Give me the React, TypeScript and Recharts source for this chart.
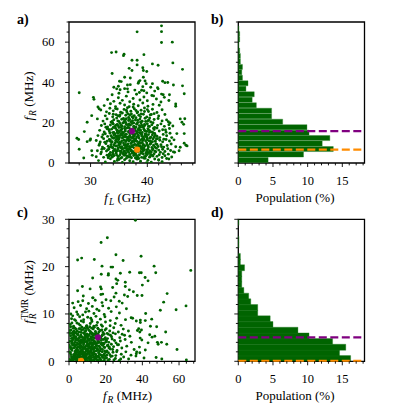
import React from "react";
import {
  ScatterChart,
  Scatter,
  BarChart,
  Bar,
  XAxis,
  YAxis,
  ReferenceArea,
  ReferenceLine,
} from "recharts";

const FONT = "'Liberation Serif', 'DejaVu Serif', serif";
const GREEN = "#006400";
const PURPLE = "#800080";
const ORANGE = "#ff8c00";

// a) f_L (GHz) vs f_R (MHz)
const fLvsFR: number[][] = [
  // dense cloud
  [31.4, 1.2], [32.6, 0.5], [33.5, 2.1], [34.2, 0.8], [35.0, 1.7], [35.6, 0.3], [36.3, 2.3], [36.9, 1.1], [37.5, 0.6], [38.2, 1.9],
  [38.8, 0.9], [39.4, 2.4], [40.1, 1.4], [40.7, 0.4], [41.3, 2.0], [42.0, 1.5], [42.6, 0.7], [43.4, 2.2], [34.7, 1.3], [37.9, 2.5],
  [39.9, 0.2], [36.0, 1.6],
  [31.0, 3.1], [31.8, 4.6], [32.3, 2.8], [32.9, 3.9], [33.3, 4.4], [33.8, 2.9], [34.1, 3.6], [34.5, 4.8], [34.9, 3.3], [35.2, 4.1],
  [35.5, 2.7], [35.9, 3.8], [36.2, 4.9], [36.6, 3.2], [36.9, 4.3], [37.2, 2.6], [37.6, 3.7], [37.9, 4.7], [38.3, 3.0], [38.6, 4.0],
  [39.0, 2.8], [39.3, 4.5], [39.7, 3.4], [40.0, 4.2], [40.4, 2.9], [40.8, 3.9], [41.2, 4.6], [41.7, 3.3], [42.1, 4.1], [42.6, 2.7],
  [43.1, 3.6], [43.7, 4.4], [44.3, 3.0], [36.4, 3.5], [38.0, 2.6], [35.7, 4.7], [39.5, 3.1], [37.3, 4.9], [33.6, 3.8], [40.6, 4.3],
  [31.2, 6.1], [31.9, 5.4], [32.4, 7.2], [32.8, 5.9], [33.2, 6.8], [33.5, 5.2], [33.9, 7.4], [34.2, 6.3], [34.5, 5.5], [34.8, 7.0],
  [35.1, 6.0], [35.3, 5.1], [35.6, 6.9], [35.9, 5.7], [36.1, 7.3], [36.4, 6.4], [36.7, 5.3], [36.9, 7.1], [37.2, 6.2], [37.5, 5.6],
  [37.7, 7.4], [38.0, 6.7], [38.4, 5.4], [38.7, 6.0], [38.9, 7.2], [39.2, 5.8], [39.5, 6.6], [39.8, 5.2], [40.1, 7.0], [40.4, 6.1],
  [40.7, 5.5], [41.0, 6.9], [41.3, 5.9], [41.6, 7.3], [42.0, 6.4], [42.3, 5.3], [42.7, 6.8], [43.1, 5.7], [43.6, 7.1], [44.1, 6.2],
  [44.6, 5.5], [34.0, 5.9], [35.4, 7.4], [36.6, 6.6], [37.9, 5.1], [38.2, 7.5], [39.1, 6.9], [40.0, 5.6], [37.0, 6.7], [36.0, 5.9],
  [38.6, 6.4], [33.0, 6.5],
  [31.5, 8.8], [32.1, 7.9], [32.7, 9.6], [33.1, 8.3], [33.6, 9.1], [33.9, 7.7], [34.3, 9.8], [34.6, 8.5], [34.9, 7.6], [35.2, 9.3],
  [35.5, 8.1], [35.8, 9.9], [36.0, 8.7], [36.3, 7.8], [36.6, 9.4], [36.8, 8.2], [37.1, 9.7], [37.4, 8.0], [37.6, 9.0], [37.9, 7.6],
  [38.1, 8.9], [38.4, 9.5], [38.7, 8.3], [39.0, 7.8], [39.3, 9.2], [39.6, 8.6], [39.9, 9.9], [40.2, 8.0], [40.5, 9.3], [40.8, 7.7],
  [41.1, 8.8], [41.5, 9.6], [41.9, 8.2], [42.4, 9.1], [42.9, 7.9], [43.5, 8.7], [44.2, 9.4], [45.0, 8.1], [34.4, 8.4], [36.2, 9.2],
  [38.3, 8.1], [40.0, 9.0], [35.0, 8.9], [37.3, 8.6], [39.4, 7.6], [36.9, 7.5], [38.8, 9.8],
  [31.0, 11.2], [31.7, 10.4], [32.3, 12.1], [32.9, 10.8], [33.3, 11.7], [33.7, 10.2], [34.0, 12.3], [34.4, 11.0], [34.7, 10.5], [35.0, 11.9],
  [35.3, 10.1], [35.6, 12.4], [35.9, 11.3], [36.2, 10.6], [36.5, 12.0], [36.8, 10.9], [37.0, 11.6], [37.3, 10.3], [37.6, 12.2], [37.9, 11.1],
  [38.2, 10.7], [38.5, 12.4], [38.8, 11.4], [39.1, 10.2], [39.4, 11.8], [39.7, 10.9], [40.0, 12.3], [40.3, 11.0], [40.7, 10.4], [41.0, 11.9],
  [41.4, 10.8], [41.8, 12.1], [42.2, 11.3], [42.7, 10.5], [43.3, 11.7], [43.9, 10.9], [44.7, 11.5], [33.5, 11.4], [35.5, 11.0], [36.7, 11.8],
  [38.0, 12.0], [39.2, 11.2], [40.5, 12.4], [37.4, 11.0], [34.8, 12.2],
  [31.3, 13.6], [32.0, 12.9], [32.6, 14.5], [33.0, 13.2], [33.4, 14.9], [33.8, 12.7], [34.1, 14.0], [34.5, 13.3], [34.8, 14.7], [35.1, 12.6],
  [35.4, 13.9], [35.7, 14.6], [36.0, 13.1], [36.3, 14.3], [36.6, 12.8], [36.9, 13.7], [37.2, 14.8], [37.5, 13.0], [37.8, 14.2], [38.1, 12.9],
  [38.4, 13.8], [38.7, 14.9], [39.0, 13.4], [39.3, 12.7], [39.6, 14.4], [39.9, 13.2], [40.2, 14.1], [40.6, 12.8], [40.9, 13.9], [41.3, 14.7],
  [41.7, 13.3], [42.2, 12.6], [42.8, 14.2], [43.4, 13.5], [44.0, 14.8], [34.6, 13.0], [36.1, 14.0], [37.7, 13.5], [38.9, 14.6], [35.2, 13.6],
  [39.8, 13.0],
  [31.6, 16.2], [32.4, 15.4], [32.9, 17.0], [33.3, 15.9], [33.7, 16.8], [34.1, 15.2], [34.4, 17.3], [34.8, 16.0], [35.1, 15.5], [35.5, 16.9],
  [35.8, 15.1], [36.1, 16.4], [36.4, 17.4], [36.7, 15.7], [37.0, 16.7], [37.3, 15.3], [37.6, 17.1], [37.9, 16.1], [38.2, 15.6], [38.5, 17.2],
  [38.8, 16.3], [39.1, 15.2], [39.4, 16.8], [39.7, 15.8], [40.1, 17.0], [40.4, 16.0], [40.8, 15.4], [41.2, 16.6], [41.7, 17.4], [42.1, 15.9],
  [42.7, 16.5], [43.3, 15.3], [43.9, 17.1], [35.3, 16.3], [36.9, 15.9], [38.4, 16.5], [39.9, 15.6],
  [31.9, 18.6], [32.5, 19.4], [33.0, 17.9], [33.5, 18.9], [33.9, 19.7], [34.3, 18.2], [34.7, 19.2], [35.0, 17.6], [35.4, 18.7], [35.7, 19.9],
  [36.0, 18.0], [36.3, 19.1], [36.6, 17.7], [37.0, 18.8], [37.3, 19.6], [37.6, 18.3], [37.9, 17.5], [38.2, 19.3], [38.6, 18.5], [38.9, 19.8],
  [39.2, 17.8], [39.6, 18.9], [40.0, 19.5], [40.4, 18.1], [40.8, 19.0], [41.3, 17.6], [41.8, 18.7], [42.4, 19.4], [43.0, 18.2], [43.8, 19.0],
  [36.8, 19.4], [34.9, 18.4],
  [32.2, 20.8], [32.9, 21.9], [33.6, 20.3], [34.1, 21.5], [34.6, 22.3], [35.0, 20.6], [35.5, 21.7], [35.9, 20.2], [36.3, 22.0], [36.7, 21.1],
  [37.1, 20.5], [37.5, 22.4], [37.9, 21.3], [38.3, 20.1], [38.7, 21.8], [39.1, 20.7], [39.6, 22.2], [40.1, 21.0], [40.6, 20.4], [41.2, 21.6],
  [41.9, 22.1], [42.6, 20.9], [43.4, 21.4], [36.1, 21.3], [38.0, 22.5],
  [32.6, 23.4], [33.3, 24.6], [33.9, 22.9], [34.5, 24.0], [35.1, 23.2], [35.6, 24.8], [36.2, 23.7], [36.7, 22.6], [37.2, 24.3], [37.7, 23.5],
  [38.2, 24.9], [38.8, 23.0], [39.3, 24.2], [39.9, 22.8], [40.5, 23.9], [41.2, 24.5], [42.0, 23.3], [43.1, 24.1], [36.9, 23.8],
  [31.8, 26.3], [32.8, 25.4], [33.4, 27.2], [34.0, 25.9], [34.7, 26.8], [35.3, 25.2], [35.9, 26.6], [36.5, 27.4], [37.1, 25.7], [37.7, 26.9],
  [38.3, 25.3], [38.9, 26.2], [39.5, 27.3], [40.2, 25.6], [40.9, 26.7], [41.7, 25.1], [42.6, 26.4],
  [32.4, 28.5], [33.5, 29.4], [34.4, 28.0], [35.2, 29.7], [36.0, 28.8], [36.8, 27.9], [37.6, 29.2], [38.4, 28.4], [39.2, 29.8], [40.1, 28.2],
  [41.0, 29.1], [42.1, 28.7],
  [33.0, 31.5], [34.1, 30.6], [34.9, 32.4], [35.6, 31.1], [36.3, 33.2], [36.9, 30.4], [37.5, 32.0], [38.1, 34.1], [38.7, 31.3], [39.4, 32.8],
  [40.0, 30.9], [40.8, 33.5], [41.6, 31.8], [42.4, 30.3], [43.0, 32.6], [35.0, 34.6], [36.6, 35.3], [37.8, 36.2], [38.6, 35.0], [39.9, 34.8],
  [41.3, 35.7], [42.5, 34.2], [33.8, 33.9], [34.6, 36.8], [43.8, 31.0],
  [33.2, 3.4], [34.0, 4.2], [34.8, 2.2], [35.4, 5.8], [36.1, 4.0], [36.8, 2.9], [37.4, 5.3], [38.1, 3.8], [38.9, 4.8], [39.6, 2.3],
  [40.3, 5.1], [41.0, 3.5], [33.6, 8.1], [34.3, 6.7], [35.0, 9.5], [35.7, 7.2], [36.4, 8.4], [37.1, 6.1], [37.8, 9.2], [38.5, 7.0],
  [39.2, 8.7], [39.9, 6.4], [40.6, 9.8], [41.3, 8.0], [33.4, 10.9], [34.2, 12.6], [34.9, 11.5], [35.6, 13.8], [36.3, 11.2], [37.0, 12.9],
  [37.7, 10.6], [38.4, 13.3], [39.1, 11.9], [39.8, 14.2], [40.5, 10.9], [41.2, 12.8], [33.9, 15.1], [34.6, 16.4], [35.3, 14.5], [36.0, 17.2],
  [36.7, 15.4], [37.4, 16.9], [38.1, 14.8], [38.8, 17.8], [39.5, 16.1], [40.2, 18.3], [41.0, 15.0], [34.0, 19.3], [34.8, 20.9], [35.5, 18.4],
  [36.2, 20.1], [36.9, 21.6], [37.6, 19.9], [38.3, 21.2], [39.0, 18.8], [39.7, 20.6], [40.4, 22.4], [35.2, 23.9], [36.4, 25.3], [37.3, 22.9],
  [38.0, 26.1], [38.9, 24.4], [40.0, 26.5], [34.4, 27.0], [37.5, 27.8], [32.0, 6.8], [32.5, 10.3], [32.2, 14.1], [42.5, 8.1], [42.9, 11.8],
  [43.2, 16.4], [42.8, 4.6], [31.6, 9.5], [44.3, 12.6], [43.7, 20.5], [32.7, 17.8], [31.2, 21.9],
  [33.1, 2.6], [33.9, 5.0], [34.6, 3.9], [35.3, 2.4], [35.8, 4.6], [36.5, 5.9], [37.0, 3.3], [37.7, 4.4], [38.5, 2.2], [39.0, 5.5],
  [39.8, 4.6], [40.5, 3.3], [41.5, 5.6], [33.3, 7.7], [34.1, 8.9], [34.7, 6.1], [35.2, 7.9], [35.9, 9.1], [36.5, 7.0], [37.2, 8.2],
  [37.9, 6.3], [38.6, 8.6], [39.3, 6.2], [40.1, 8.4], [40.9, 6.6], [41.7, 9.2], [33.8, 10.6], [34.5, 11.7], [35.1, 10.3], [35.8, 12.8],
  [36.6, 11.4], [37.3, 12.5], [37.8, 11.6], [38.6, 10.3], [39.3, 12.9], [40.0, 11.5], [40.9, 10.6], [41.6, 11.9], [33.6, 13.5], [34.3, 14.4],
  [34.9, 13.4], [35.6, 15.4], [36.2, 12.9], [36.9, 14.9], [37.5, 14.1], [38.3, 15.1], [39.0, 14.2], [39.6, 13.6], [40.4, 15.3], [41.4, 13.8],
  [33.2, 16.6], [34.0, 17.6], [34.7, 15.3], [35.4, 17.7], [36.1, 15.8], [36.8, 17.5], [37.4, 15.6], [38.0, 17.9], [38.7, 16.1], [39.4, 18.1],
  [40.2, 16.4], [41.1, 17.3], [33.8, 20.6], [34.5, 18.8], [35.2, 19.6], [36.0, 21.1], [36.6, 19.0], [37.4, 21.0], [38.1, 19.4], [38.8, 20.4],
  [39.5, 19.1], [40.3, 21.3], [41.0, 20.0], [34.8, 23.5], [35.8, 22.1], [36.6, 24.4], [37.5, 23.0], [38.5, 23.7], [39.5, 25.6], [40.7, 24.1],
  [34.0, 24.2], [36.3, 26.2],
  // sparse points
  [33.7, 54.8], [34.5, 55.1], [35.8, 53.3], [35.9, 54.0], [37.3, 51.0], [36.8, 47.0], [33.8, 44.4], [36.0, 42.6], [37.0, 42.2], [35.1, 40.6],
  [35.4, 40.4], [36.5, 38.7], [37.0, 38.9], [34.1, 37.6], [34.9, 38.1], [36.0, 36.9], [36.5, 36.8], [35.2, 36.4],
  [42.5, 68.1], [42.5, 65.2], [38.2, 65.1], [42.5, 59.8], [44.4, 60.0], [39.4, 53.8], [38.2, 51.0], [38.2, 48.7], [44.5, 49.7], [40.9, 49.2],
  [41.9, 48.5], [46.2, 46.5], [39.2, 47.3], [39.3, 45.9], [39.9, 45.4], [37.3, 45.9], [39.3, 42.6], [38.5, 40.3], [38.4, 39.6], [38.7, 40.9],
  [39.6, 40.7], [39.8, 39.4], [40.9, 39.4], [42.7, 40.6], [43.1, 39.9], [43.6, 40.0], [44.6, 38.7], [46.2, 38.3], [41.8, 37.4], [41.9, 36.8],
  [40.6, 37.6], [39.2, 37.9], [39.0, 36.1], [39.4, 35.9],
  [28.0, 34.9], [30.5, 32.6], [30.6, 31.6], [31.3, 27.8], [31.5, 26.9], [30.2, 23.5], [29.4, 20.2], [28.9, 15.6], [27.6, 12.3], [27.9, 11.7],
  [28.0, 6.8], [28.8, 2.5], [29.9, 11.3], [30.0, 11.9], [29.4, 10.6], [30.2, 6.1], [30.3, 3.8],
  [46.5, 34.4], [42.8, 33.9], [43.9, 33.9], [41.1, 33.3], [45.0, 29.3], [45.0, 28.2], [46.1, 20.2], [45.8, 21.9], [46.6, 22.0], [46.4, 19.2],
  [44.0, 19.9], [44.5, 18.4], [45.2, 14.6], [46.5, 14.6], [46.5, 9.8], [46.8, 8.8], [47.0, 8.5], [45.8, 7.8], [45.6, 6.1], [44.8, 5.3],
  [43.8, 2.0], [42.0, 1.5],
];

// c) f_R (MHz) vs f_R^TMR (MHz)
const fRvsTMR: number[][] = [
  [0.5, 0.4], [1.3, 0.9], [2.1, 0.2], [2.8, 0.7], [3.4, 1.1], [4.0, 0.3], [4.6, 0.8], [5.1, 0.1], [5.7, 1.0], [6.2, 0.5],
  [6.8, 0.9], [7.3, 0.2], [7.9, 0.6], [8.4, 1.1], [9.0, 0.3], [9.6, 0.8], [10.1, 0.1], [10.7, 0.6], [11.3, 1.0], [11.9, 0.4],
  [12.5, 0.8], [13.2, 0.2], [13.9, 0.7], [14.6, 1.1], [15.4, 0.3], [16.2, 0.9], [17.1, 0.5], [18.0, 1.0], [19.2, 0.2], [20.5, 0.7],
  [22.0, 0.4], [23.6, 1.1], [25.3, 0.6], [27.4, 0.2], [29.8, 0.9], [32.5, 0.5], [3.7, 0.6], [5.4, 1.0], [8.7, 0.4], [11.0, 0.9],
  [13.5, 0.3], [16.8, 0.6], [19.8, 1.1], [24.5, 0.3], [2.4, 1.0], [6.5, 0.2], [9.3, 0.5], [12.2, 0.1], [15.0, 0.8], [21.3, 0.2],
  [0.8, 1.8], [1.6, 2.3], [2.5, 1.4], [3.2, 2.0], [3.9, 1.6], [4.5, 2.3], [5.2, 1.3], [5.8, 1.9], [6.4, 2.2], [7.0, 1.5],
  [7.6, 2.1], [8.2, 1.3], [8.8, 1.8], [9.4, 2.4], [10.0, 1.6], [10.6, 2.0], [11.2, 1.4], [11.8, 2.2], [12.4, 1.7], [13.1, 1.3],
  [13.8, 2.1], [14.5, 1.5], [15.3, 2.3], [16.1, 1.8], [17.0, 1.4], [18.1, 2.0], [19.3, 1.6], [20.7, 2.2], [22.3, 1.4], [24.0, 1.9],
  [26.2, 2.3], [28.5, 1.5], [31.0, 2.0], [33.8, 1.3], [4.2, 1.9], [7.4, 1.7], [10.3, 2.3], [13.4, 1.9], [16.6, 2.2], [21.5, 1.8],
  [6.1, 1.4], [9.1, 1.5], [12.0, 2.0], [18.8, 1.3],
  [0.4, 3.0], [1.2, 2.6], [2.0, 3.4], [2.7, 2.8], [3.4, 3.3], [4.1, 2.5], [4.8, 3.1], [5.4, 3.6], [6.0, 2.7], [6.7, 3.2],
  [7.3, 2.5], [7.9, 3.5], [8.6, 2.9], [9.2, 3.3], [9.8, 2.6], [10.5, 3.1], [11.1, 3.6], [11.8, 2.8], [12.4, 3.3], [13.1, 2.5],
  [13.8, 3.0], [14.6, 3.5], [15.4, 2.7], [16.3, 3.2], [17.2, 2.6], [18.3, 3.4], [19.5, 2.9], [20.9, 3.3], [22.5, 2.6], [24.3, 3.1],
  [26.4, 3.5], [28.8, 2.8], [31.5, 3.2], [3.0, 3.6], [5.9, 3.1], [8.9, 2.6], [11.5, 3.0], [14.2, 2.9], [17.8, 3.5], [21.8, 2.8],
  [7.0, 3.0], [10.0, 3.5], [12.9, 3.6],
  [0.6, 4.2], [1.5, 3.8], [2.3, 4.6], [3.1, 4.0], [3.8, 4.7], [4.5, 3.9], [5.2, 4.4], [5.9, 3.7], [6.6, 4.5], [7.3, 4.1],
  [8.0, 3.8], [8.7, 4.7], [9.4, 4.2], [10.1, 3.7], [10.8, 4.4], [11.5, 4.0], [12.2, 4.8], [12.9, 3.9], [13.7, 4.3], [14.5, 3.7],
  [15.4, 4.6], [16.4, 4.0], [17.5, 4.4], [18.7, 3.8], [20.1, 4.5], [21.7, 4.0], [23.5, 4.7], [25.6, 3.9], [28.0, 4.3], [30.6, 4.6],
  [34.0, 4.0], [4.9, 4.8], [8.4, 4.3], [11.9, 3.8], [15.9, 4.2], [19.4, 4.7], [6.3, 4.0],
  [0.9, 5.4], [1.9, 5.0], [2.9, 5.8], [3.8, 5.2], [4.7, 5.7], [5.6, 4.9], [6.5, 5.5], [7.4, 5.1], [8.3, 5.9], [9.2, 5.3],
  [10.1, 4.9], [11.0, 5.6], [11.9, 5.2], [12.8, 5.9], [13.7, 5.0], [14.7, 5.5], [15.8, 5.8], [17.0, 5.1], [18.3, 5.6], [19.8, 5.0],
  [21.4, 5.7], [23.2, 5.2], [25.3, 5.8], [27.7, 5.0], [30.3, 5.5], [33.2, 5.3], [9.7, 5.8], [13.2, 5.5],
  [1.1, 6.6], [2.2, 6.2], [3.3, 7.0], [4.4, 6.4], [5.5, 6.9], [6.6, 6.1], [7.7, 6.7], [8.8, 6.3], [9.9, 7.1], [11.0, 6.5],
  [12.1, 6.1], [13.2, 6.8], [14.4, 6.3], [15.7, 7.0], [17.1, 6.5], [18.6, 6.1], [20.3, 6.9], [22.2, 6.4], [24.4, 7.1], [26.9, 6.2],
  [29.6, 6.8], [32.4, 6.4], [10.4, 6.9], [16.3, 6.2],
  [0.7, 7.8], [2.5, 7.4], [4.3, 8.1], [6.1, 7.6], [7.9, 8.3], [9.7, 7.5], [11.6, 8.0], [13.5, 7.4], [15.5, 8.2], [17.6, 7.7],
  [19.9, 8.3], [22.4, 7.5], [25.2, 8.0], [28.4, 7.6], [12.5, 8.4],
  [1.4, 9.0], [3.6, 8.6], [5.8, 9.4], [8.0, 8.8], [10.2, 9.3], [12.4, 8.7], [14.7, 9.5], [17.1, 8.9], [19.6, 9.4], [22.5, 8.6],
  [26.0, 9.1], [30.8, 8.8], [33.9, 9.2],
  [1.0, 10.0], [4.2, 10.4], [7.5, 9.8], [10.8, 10.6], [13.6, 10.1], [16.4, 10.7], [19.2, 9.9], [23.0, 10.5], [27.5, 10.2],
  [2.8, 11.3], [6.3, 11.8], [9.6, 11.1], [12.7, 11.6], [15.2, 11.0], [18.4, 11.7], [21.6, 11.2], [25.8, 11.5], [31.3, 11.1],
  [5.0, 12.6], [10.6, 12.2], [14.3, 12.9], [18.0, 12.4], [22.8, 12.8], [29.0, 12.3],
  [7.8, 13.8], [13.1, 13.4], [17.4, 14.1], [24.6, 13.6], [30.2, 14.0],
  [1.8, 0.6], [3.0, 1.5], [4.3, 2.8], [5.5, 0.9], [6.9, 2.4], [8.1, 3.9], [9.5, 1.2], [10.9, 2.7], [12.3, 4.4], [13.6, 1.6],
  [15.1, 3.3], [16.6, 5.2], [18.2, 2.5], [19.9, 4.0], [2.6, 4.9], [4.9, 5.6], [7.6, 4.6], [10.4, 5.3], [13.0, 3.5], [15.8, 1.1],
  [17.9, 3.8], [1.0, 2.9], [3.6, 4.4], [6.3, 3.7], [8.9, 5.1], [11.6, 2.1], [14.1, 4.9], [16.9, 2.9], [20.6, 1.3], [23.1, 3.6],
  [2.2, 5.6], [5.0, 2.3], [7.7, 1.1], [9.9, 4.1], [12.8, 5.7], [14.9, 2.2], [18.6, 4.6], [22.6, 5.5], [26.0, 2.0], [0.3, 1.9],
  [4.4, 0.4], [8.3, 0.7], [11.4, 0.3], [14.3, 0.5], [17.6, 0.2], [6.0, 4.3], [9.7, 3.2], [13.3, 2.6], [16.0, 4.5], [19.0, 3.0],
  [21.0, 4.8], [24.8, 4.4], [3.3, 6.1], [6.8, 6.6], [11.3, 7.3], [15.0, 7.6], [8.5, 7.0], [1.6, 8.1], [5.3, 7.9], [19.7, 6.6],
  [1.4, 0.2], [2.9, 0.5], [4.7, 1.3], [6.0, 0.7], [7.5, 1.9], [8.9, 0.9], [10.4, 1.8], [11.7, 0.6], [13.0, 1.5], [14.8, 0.4],
  [16.4, 1.6], [18.5, 0.8], [20.1, 1.9], [22.8, 1.0], [1.9, 3.7], [3.5, 2.2], [5.1, 3.0], [6.6, 1.8], [8.0, 2.9], [9.6, 4.0],
  [11.0, 1.7], [12.6, 2.9], [14.0, 3.8], [15.6, 2.5], [17.3, 3.7], [19.4, 2.2], [21.2, 3.4], [23.8, 2.5], [1.2, 4.8], [2.8, 5.3],
  [4.3, 4.5], [5.8, 5.2], [7.2, 4.3], [8.6, 5.6], [10.2, 4.6], [11.7, 5.9], [13.1, 4.5], [14.6, 6.0], [16.2, 4.8], [18.0, 5.4],
  [20.5, 4.3], [0.6, 6.5], [2.4, 7.0], [3.9, 6.8], [5.5, 6.2], [7.1, 7.2], [9.3, 6.5], [12.4, 7.0], [14.2, 5.7], [17.9, 6.6],
  [0.2, 3.4], [0.4, 5.9], [1.1, 1.4], [0.9, 7.3], [2.0, 9.6], [3.0, 8.8], [4.8, 9.9], [6.7, 8.5], [9.0, 10.4], [11.9, 9.1],
  [24.0, 6.0], [27.0, 3.5], [29.0, 5.7], [25.5, 1.2], [28.2, 0.5],
  [2.3, 0.3], [3.9, 0.9], [5.3, 1.7], [6.7, 0.3], [8.6, 1.5], [10.0, 0.6], [12.1, 1.2], [13.7, 0.9], [16.0, 0.2], [17.7, 1.3],
  [19.5, 0.6], [1.5, 2.7], [3.1, 3.0], [4.6, 2.0], [6.2, 3.3], [7.8, 2.7], [9.2, 2.1], [10.7, 3.4], [12.2, 2.5], [13.9, 2.7],
  [15.5, 3.8], [17.0, 2.2], [18.9, 3.6], [1.7, 4.3], [3.3, 5.1], [4.2, 3.5], [5.6, 4.2], [6.9, 5.1], [8.2, 4.6], [9.8, 5.6],
  [11.3, 4.7], [12.7, 5.1], [14.4, 4.1], [15.9, 5.5], [17.4, 4.9], [19.1, 5.7], [1.3, 5.9], [2.8, 6.4], [4.1, 5.9], [6.1, 6.9],
  [7.9, 6.0], [9.5, 7.4], [11.6, 6.3], [13.8, 7.2], [16.0, 6.8], [18.2, 7.4], [20.8, 5.9], [22.0, 3.0],
  // sparse points
  [20.9, 26.1], [17.5, 25.1], [4.7, 21.4], [6.9, 21.8], [13.8, 21.5], [25.6, 22.5], [29.5, 21.3], [18.0, 20.1], [22.9, 19.9], [23.8, 19.9],
  [21.5, 18.5], [21.4, 18.2], [17.6, 18.4], [28.0, 18.6], [33.1, 18.8], [12.9, 17.6], [25.6, 17.4], [26.6, 17.1], [26.0, 16.4], [30.7, 16.7],
  [7.3, 15.8], [11.5, 15.3], [17.2, 15.7], [17.6, 15.3], [23.8, 15.6], [30.7, 15.8], [4.7, 14.9], [18.4, 14.2], [25.6, 14.4], [32.9, 15.1],
  [12.9, 13.4], [20.2, 13.0], [27.4, 12.7], [32.0, 13.7], [2.0, 12.3], [7.5, 12.8],
  [36.2, 29.8], [39.3, 22.2], [46.4, 20.1], [47.3, 18.7], [38.4, 18.7], [39.4, 18.7], [41.5, 17.7], [43.1, 17.0], [40.0, 16.1], [66.4, 19.2],
  [35.1, 14.7], [37.2, 13.9], [39.8, 13.9], [53.5, 14.3], [51.6, 12.5], [63.8, 11.7], [58.4, 10.9], [49.8, 10.8], [41.8, 10.1], [45.1, 8.9],
  [41.6, 8.6], [38.9, 8.7], [36.7, 8.5], [34.7, 9.1], [38.9, 8.2], [44.4, 7.4], [38.0, 6.9], [37.3, 6.5], [39.5, 6.6], [38.6, 6.2],
  [47.8, 7.3], [52.7, 6.2], [45.3, 5.1], [44.0, 5.6], [46.8, 5.3], [48.2, 4.0], [50.4, 4.0], [53.3, 3.6], [48.6, 3.6], [58.9, 2.5],
  [35.5, 2.5], [36.9, 2.0], [38.4, 3.0], [38.8, 4.9], [41.6, 2.4], [36.7, 1.6], [38.6, 1.8], [47.5, 0.8], [50.6, 0.5], [64.0, 0.3],
  [40.9, 0.7], [36.5, 1.1], [43.1, 3.9], [39.7, 4.5],
];

// b) and d) histograms, population in percent per bin
const fRBinWidth = 2.72;
const fRPopulation = [4.3, 9.4, 13.7, 12.1, 13.2, 10.2, 9.9, 6.4, 4.8, 4.8, 2.6, 2.0, 2.3, 1.1, 1.4, 0.6, 0.5, 0.6, 0.3, 0.3, 0.2, 0.1, 0.2, 0.2, 0.1];
const tmrBinWidth = 1.2;
const tmrPopulation = [16.2, 14.6, 15.5, 13.6, 10.2, 8.6, 5.0, 4.6, 2.8, 2.8, 1.8, 1.5, 0.8, 0.5, 0.5, 0.5, 0.9, 0.3, 0.3, 0.0, 0.1, 0.1, 0.0, 0.0, 0.1];

// highlighted devices: [f_L, f_R, f_R^TMR]
const purpleDevice = [37.3, 15.8, 5.07];
const orangeDevice = [38.2, 6.6, 0.12];

// ticks
const fLTicks = [28, 30, 32, 34, 36, 38, 40, 42, 44, 46, 48];
const fLMajors = [30, 40];
const fRTicksA = [0, 5, 10, 15, 20, 25, 30, 35, 40, 45, 50, 55, 60, 65, 70];
const fRMajorsA = [0, 20, 40, 60];
const fRTicksC = [0, 4, 8, 12, 16, 20, 24, 28, 32, 36, 40, 44, 48, 52, 56, 60, 64, 68];
const fRMajorsC = [0, 20, 40, 60];
const tmrTicks = [0, 2, 4, 6, 8, 10, 12, 14, 16, 18, 20, 22, 24, 26, 28, 30];
const tmrMajors = [0, 10, 20, 30];
const popTicks = [0, 1, 2, 3, 4, 5, 6, 7, 8, 9, 10, 11, 12, 13, 14, 15, 16, 17, 18];
const popMajors = [0, 5, 10, 15];

const F_DOMAIN_L: [number, number] = [26.2, 48.4];
const F_DOMAIN_R_A: [number, number] = [0, 70];
const F_DOMAIN_R_C: [number, number] = [0, 68.7];
const TMR_DOMAIN: [number, number] = [0, 30];
const POP_DOMAIN: [number, number] = [0, 18.2];

const bottomTick = (majors: number[]) => (props: any) => {
  const { x, y, payload } = props;
  const major = majors.includes(payload.value);
  return (
    <g>
      <line x1={x} x2={x} y1={y} y2={y + (major ? 4 : 2.4)} stroke="#000" strokeWidth={0.9} />
      {major && (
        <text x={x} y={y + 21.5} textAnchor="middle" fontFamily={FONT} fontSize={12.5} fill="#000">
          {payload.value}
        </text>
      )}
    </g>
  );
};

const leftTick = (majors: number[], labels: boolean) => (props: any) => {
  const { x, y, payload } = props;
  const major = majors.includes(payload.value);
  return (
    <g>
      <line x1={x - (major ? 4 : 2.4)} x2={x} y1={y} y2={y} stroke="#000" strokeWidth={0.9} />
      {major && labels && (
        <text x={x - 14.5} y={y + 4.3} textAnchor="end" fontFamily={FONT} fontSize={12.5} fill="#000">
          {payload.value}
        </text>
      )}
    </g>
  );
};

const dot = (r: number, color: string) => (p: any) => <circle cx={p.cx} cy={p.cy} r={r} fill={color} />;

const axisCommon = {
  type: "number" as const,
  allowDataOverflow: true,
  interval: 0 as const,
  tickLine: false,
  tickSize: 0,
  tickMargin: 0,
  axisLine: false,
};

interface ScatterPanelProps {
  left: number;
  top: number;
  height: number;
  marginTop: number;
  xAxisHeight: number;
  points: number[][];
  marks: number[][];
  xDomain: [number, number];
  yDomain: [number, number];
  xTicks: number[];
  xMajors: number[];
  yTicks: number[];
  yMajors: number[];
}

function ScatterPanel(p: ScatterPanelProps) {
  const data = p.points.map(([x, y]) => ({ x, y }));
  return (
    <div style={{ position: "absolute", left: p.left, top: p.top }}>
      <ScatterChart width={200} height={p.height} margin={{ top: p.marginTop, right: 5, left: 0, bottom: 0 }}>
        <XAxis {...axisCommon} dataKey="x" domain={p.xDomain} ticks={p.xTicks} tick={bottomTick(p.xMajors)} height={p.xAxisHeight} />
        <YAxis {...axisCommon} dataKey="y" domain={p.yDomain} ticks={p.yTicks} tick={leftTick(p.yMajors, true)} width={69} />
        <Scatter data={data} shape={dot(1.45, GREEN)} isAnimationActive={false} />
        <Scatter data={[{ x: p.marks[0][0], y: p.marks[0][1] }]} shape={dot(3.1, PURPLE)} isAnimationActive={false} />
        <Scatter data={[{ x: p.marks[1][0], y: p.marks[1][1] }]} shape={dot(3.1, ORANGE)} isAnimationActive={false} />
        <ReferenceArea x1={p.xDomain[0]} x2={p.xDomain[1]} y1={p.yDomain[0]} y2={p.yDomain[1]} fill="none" stroke="#000" strokeWidth={1.3} ifOverflow="visible" />
      </ScatterChart>
    </div>
  );
}

interface HistPanelProps {
  left: number;
  top: number;
  height: number;
  marginTop: number;
  xAxisHeight: number;
  population: number[];
  binWidth: number;
  yDomain: [number, number];
  yTicks: number[];
  yMajors: number[];
  purpleAt: number;
  orangeAt: number;
}

function HistPanel(p: HistPanelProps) {
  const bins = p.population.map((pct, i) => ({ mid: (i + 0.5) * p.binWidth, pct }));
  return (
    <div style={{ position: "absolute", left: p.left, top: p.top }}>
      <BarChart
        layout="vertical"
        width={195}
        height={p.height}
        data={bins}
        barCategoryGap={0}
        barGap={0}
        margin={{ top: p.marginTop, right: 30.5, left: 0, bottom: 0 }}
      >
        <XAxis {...axisCommon} domain={POP_DOMAIN} ticks={popTicks} tick={bottomTick(popMajors)} height={p.xAxisHeight} />
        <YAxis {...axisCommon} reversed dataKey="mid" domain={p.yDomain} ticks={p.yTicks} tick={leftTick(p.yMajors, false)} width={38.3} />
        <Bar dataKey="pct" fill={GREEN} stroke="#1d7a1d" strokeWidth={0.35} isAnimationActive={false} />
        <ReferenceLine y={p.purpleAt} stroke={PURPLE} strokeWidth={2.2} strokeDasharray="8 3.5" />
        <ReferenceLine y={p.orangeAt} stroke={ORANGE} strokeWidth={2.2} strokeDasharray="8 3.5" />
        <ReferenceArea x1={POP_DOMAIN[0]} x2={POP_DOMAIN[1]} y1={p.yDomain[0]} y2={p.yDomain[1]} fill="none" stroke="#000" strokeWidth={1.3} ifOverflow="visible" />
      </BarChart>
    </div>
  );
}

function MathLabel({ x, y, sub, sup, unit, rotate }: { x: number; y: number; sub: string; sup?: string; unit: string; rotate?: boolean }) {
  return (
    <text
      x={x}
      y={y}
      textAnchor="middle"
      fontFamily={FONT}
      fontSize={13}
      fill="#000"
      transform={rotate ? `rotate(-90 ${x} ${y})` : undefined}
    >
      <tspan fontStyle="italic">f</tspan>
      <tspan fontStyle="italic" fontSize={9.5} dx={1} dy={3}>{sub}</tspan>
      {sup && <tspan fontSize={9.5} dx={-6} dy={-8.5}>{sup}</tspan>}
      <tspan dy={sup ? 5.5 : -3}>{"\u00a0" + unit}</tspan>
    </text>
  );
}

export default function App() {
  return (
    <div style={{ position: "absolute", left: 0, top: 0, width: 395, height: 411, background: "#fff" }}>
      <ScatterPanel
        left={0}
        top={0}
        height={205}
        marginTop={22}
        xAxisHeight={42}
        points={fLvsFR}
        marks={[[purpleDevice[0], purpleDevice[1]], [orangeDevice[0], orangeDevice[1]]]}
        xDomain={F_DOMAIN_L}
        yDomain={F_DOMAIN_R_A}
        xTicks={fLTicks}
        xMajors={fLMajors}
        yTicks={fRTicksA}
        yMajors={fRMajorsA}
      />
      <HistPanel
        left={200}
        top={0}
        height={205}
        marginTop={22}
        xAxisHeight={42}
        population={fRPopulation}
        binWidth={fRBinWidth}
        yDomain={F_DOMAIN_R_A}
        yTicks={fRTicksA}
        yMajors={fRMajorsA}
        purpleAt={purpleDevice[1]}
        orangeAt={orangeDevice[1]}
      />
      <ScatterPanel
        left={0}
        top={205}
        height={206}
        marginTop={14.3}
        xAxisHeight={49.7}
        points={fRvsTMR}
        marks={[[purpleDevice[1], purpleDevice[2]], [orangeDevice[1], orangeDevice[2]]]}
        xDomain={F_DOMAIN_R_C}
        yDomain={TMR_DOMAIN}
        xTicks={fRTicksC}
        xMajors={fRMajorsC}
        yTicks={tmrTicks}
        yMajors={tmrMajors}
      />
      <HistPanel
        left={200}
        top={205}
        height={206}
        marginTop={14.3}
        xAxisHeight={49.7}
        population={tmrPopulation}
        binWidth={tmrBinWidth}
        yDomain={TMR_DOMAIN}
        yTicks={tmrTicks}
        yMajors={tmrMajors}
        purpleAt={purpleDevice[2]}
        orangeAt={orangeDevice[2]}
      />
      <svg width={395} height={411} style={{ position: "absolute", left: 0, top: 0, pointerEvents: "none" }}>
        <g fontFamily={FONT} fontWeight="bold" fontSize={14} fill="#000">
          <text x={17} y={23.5}>a)</text>
          <text x={211} y={23.5}>b)</text>
          <text x={17} y={216.5}>c)</text>
          <text x={211} y={216.5}>d)</text>
        </g>
        <MathLabel x={33} y={96} sub="R" unit="(MHz)" rotate />
        <MathLabel x={127.5} y={201.5} sub="L" unit="(GHz)" />
        <MathLabel x={33} y={292} sub="R" sup="TMR" unit="(MHz)" rotate />
        <MathLabel x={127.5} y={400} sub="R" unit="(MHz)" />
        <text x={295} y={202} textAnchor="middle" fontFamily={FONT} fontSize={13} fill="#000">Population (%)</text>
        <text x={295} y={400} textAnchor="middle" fontFamily={FONT} fontSize={13} fill="#000">Population (%)</text>
      </svg>
    </div>
  );
}
